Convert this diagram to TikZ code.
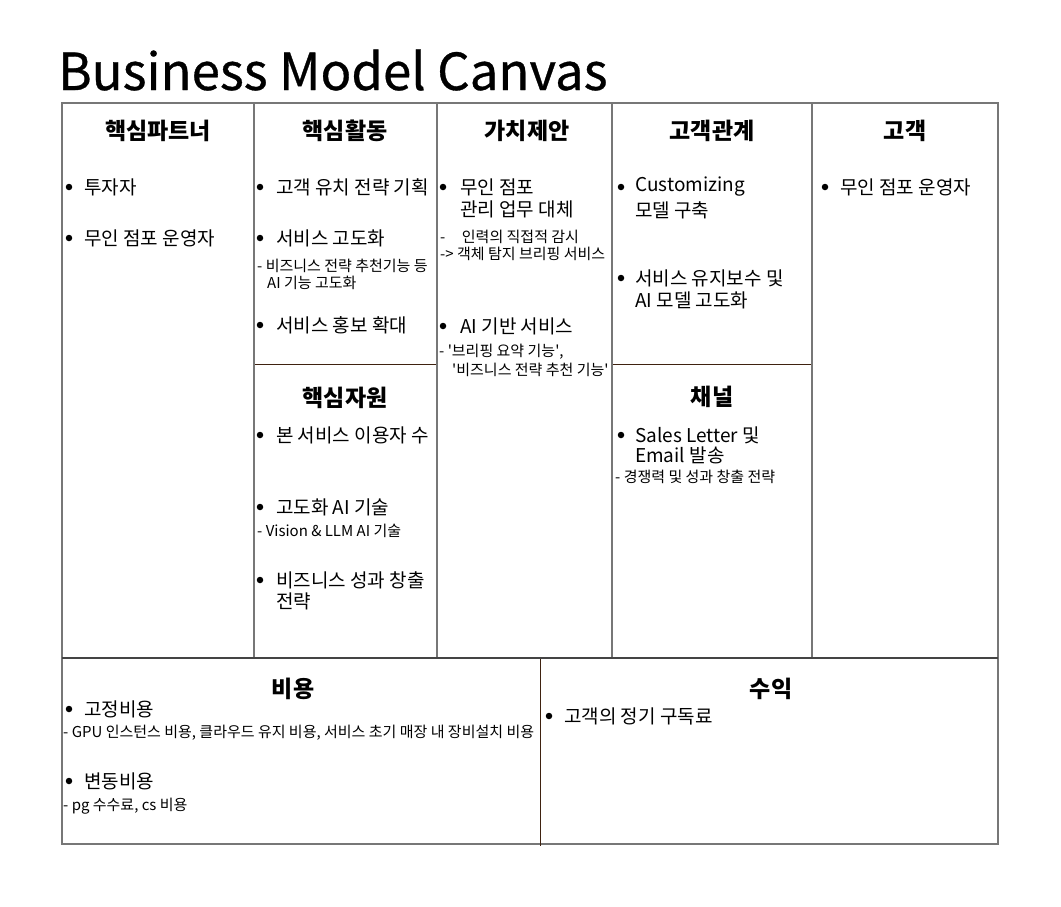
\documentclass[tikz,border=0pt]{standalone}
\usepackage{fontspec}
\setmainfont{Noto Sans CJK KR}
\newfontfamily\titlefont[FakeBold=0.6]{Noto Sans CJK KR}
\definecolor{gridgray}{HTML}{777777}
\definecolor{brownline}{HTML}{3F2210}
\definecolor{darkline}{HTML}{444444}
\newcommand\sq{\textquotesingle}
\begin{document}
\begin{tikzpicture}[x=1pt,y=-1pt,
  hdr/.style={font=\fontsize{23}{27}\selectfont\bfseries, anchor=center, inner sep=0pt},
  itm/.style={font=\fontsize{19}{22}\selectfont, anchor=west, inner sep=0pt},
  sml/.style={font=\fontsize{15}{17}\selectfont, anchor=west, inner sep=0pt},
  bul/.style={circle, fill=black, inner sep=0pt, minimum size=6.5pt},
  cell/.style={draw=gridgray, line width=1.5pt},
  inner/.style={draw=brownline, line width=1pt}]
\useasboundingbox (0,0) rectangle (1061,906);
\fill[white] (0,0) rectangle (1061,906);
% title
\node[anchor=base west, font=\titlefont\fontsize{51}{54}\selectfont, inner sep=0pt] (title) at (58,90) {Business Model Canvas};
% grid
\draw[cell] (62,103) rectangle (998,844);
\draw[cell] (254,103) -- (254,658);
\draw[cell] (437,103) -- (437,658);
\draw[cell] (612,103) -- (612,658);
\draw[cell] (812,103) -- (812,658);
\draw[draw=darkline, line width=1.5pt] (62,658) -- (998,658);
\draw[inner] (255,364) -- (436,364);
\draw[inner] (613,364) -- (811,364);
\draw[inner] (540,659) -- (540,846);
% headers
\node[hdr] (h1) at (158,131) {핵심파트너};
\node[hdr] (h2) at (345,131) {핵심활동};
\node[hdr] (h3) at (527,131) {가치제안};
\node[hdr] (h4) at (712,131) {고객관계};
\node[hdr] (h5) at (905,131) {고객};
\node[hdr] (h6) at (345,398) {핵심자원};
\node[hdr] (h7) at (712,397) {채널};
\node[hdr] (h8) at (293,689) {비용};
\node[hdr] (h9) at (771,689) {수익};
% column 1
\node[bul] (b11) at (69,187) {}; \node[itm] (t11) at (84,187) {투자자};
\node[bul] (b12) at (69,238) {}; \node[itm] (t12) at (84,238) {무인 점포 운영자};
% column 2
\node[bul] (b21) at (260,187) {}; \node[itm] (t21) at (276,187) {고객 유치 전략 기획};
\node[bul] (b22) at (260,238) {}; \node[itm] (t22) at (276,238) {서비스 고도화};
\node[sml] (s22a) at (257,266) {- 비즈니스 전략 추천기능 등};
\node[sml] (s22b) at (267,283) {AI 기능 고도화};
\node[bul] (b23) at (260,325) {}; \node[itm] (t23) at (276,325) {서비스 홍보 확대};
\node[bul] (b24) at (260,435) {}; \node[itm] (t24) at (276,435) {본 서비스 이용자 수};
\node[bul] (b25) at (260,507) {}; \node[itm] (t25) at (276,507) {고도화 AI 기술};
\node[sml] (s25) at (257,531) {- Vision \& LLM AI 기술};
\node[bul] (b26) at (260,580) {}; \node[itm] (t26) at (276,580) {비즈니스 성과 창출};
\node[itm] (t26b) at (276,601) {전략};
% column 3
\node[bul] (b31) at (443,187) {}; \node[itm] (t31) at (460,187) {무인 점포};
\node[itm] (t31b) at (460,209) {관리 업무 대체};
\node[sml] (s31a) at (440,237) {-\hspace{1.1em}인력의 직접적 감시};
\node[sml] (s31b) at (440,254) {-> 객체 탐지 브리핑 서비스};
\node[bul] (b32) at (443,326) {}; \node[itm] (t32) at (460,326) {AI 기반 서비스};
\node[sml] (s32a) at (439,352) {- \sq{}브리핑 요약 기능\sq{},};
\node[sml] (s32b) at (452,370) {\sq{}비즈니스 전략 추천 기능\sq{}};
% column 4
\node[bul] (b41) at (621,187) {}; \node[itm] (t41) at (635,187) {Customizing};
\node[itm] (t41b) at (635,210) {모델 구축};
\node[bul] (b42) at (621,278) {}; \node[itm] (t42) at (635,278) {서비스 유지보수 및};
\node[itm] (t42b) at (635,300) {AI 모델 고도화};
\node[bul] (b43) at (621,435) {}; \node[itm] (t43) at (635,435) {Sales Letter 및};
\node[itm] (t43b) at (635,455) {Email 발송};
\node[sml] (s43) at (615,477) {- 경쟁력 및 성과 창출 전략};
% column 5
\node[bul] (b51) at (825,187) {}; \node[itm] (t51) at (840,187) {무인 점포 운영자};
% costs
\node[bul] (b61) at (69,709) {}; \node[itm] (t61) at (84,709) {고정비용};
\node[sml] (s61) at (63,733) {- GPU 인스턴스 비용, 클라우드 유지 비용, 서비스 초기 매장 내 장비설치 비용};
\node[bul] (b62) at (69,781) {}; \node[itm] (t62) at (84,781) {변동비용};
\node[sml] (s62) at (63,806) {- pg 수수료, cs 비용};
% revenue
\node[bul] (b71) at (549,716) {}; \node[itm] (t71) at (564,716) {고객의 정기 구독료};
\end{tikzpicture}
\end{document}
